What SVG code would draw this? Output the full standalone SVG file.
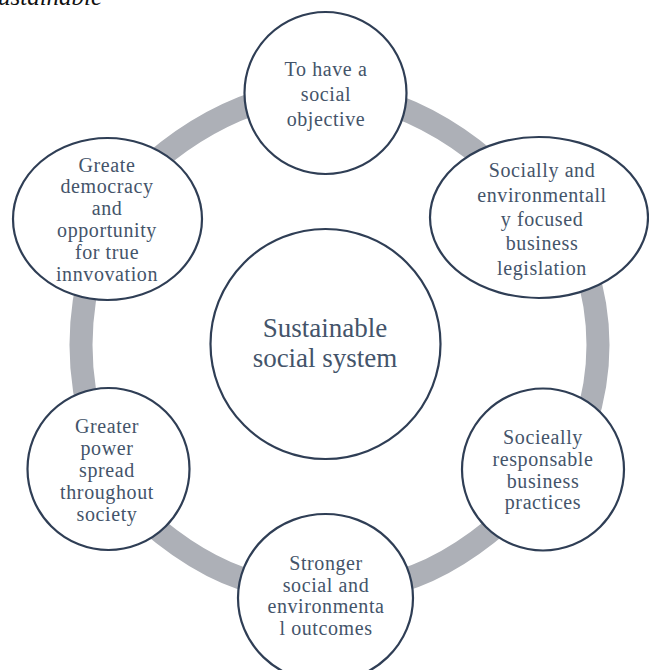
<svg xmlns="http://www.w3.org/2000/svg" width="649" height="670" viewBox="0 0 649 670">
<style>
.ring{fill:none;stroke:#ADB0B7;stroke-width:23}
.node{fill:#FFFFFF;stroke:#2F3E55;stroke-width:2.2}
.t{font-family:"Liberation Serif","Times New Roman",serif;font-size:20px;letter-spacing:0.6px;fill:#44546A;text-anchor:middle}
.c{font-family:"Liberation Serif","Times New Roman",serif;font-size:27px;fill:#44546A;text-anchor:middle}
.title{font-family:"Liberation Serif","Times New Roman",serif;font-size:25px;font-style:italic;fill:#111111}
</style>
<rect width="649" height="670" fill="#FFFFFF"/>
<text class="title" x="-2" y="5">ustainable</text>
<g id="connectors">
<path class="ring" d="M140 175 Q197.5 120.5 265 100"/>
<path class="ring" d="M378 100 Q445.5 120.5 503 175"/>
<path class="ring" d="M585 265 Q611 345 585 425"/>
<path class="ring" d="M520 505 Q451.5 571 385 585"/>
<path class="ring" d="M265 585 Q198.5 571 130 505"/>
<path class="ring" d="M95 435 Q67 345 95 255"/>
</g>
<g id="center">
<circle class="node" cx="325.5" cy="344" r="115"/>
<text class="c" x="325" y="337">Sustainable</text>
<text class="c" x="325" y="367">social system</text>
</g>
<g id="n1">
<circle class="node" cx="325.5" cy="93" r="81"/>
<text class="t" x="326" y="76">To have a</text>
<text class="t" x="326" y="101">social</text>
<text class="t" x="326" y="126">objective</text>
</g>
<g id="n2">
<ellipse class="node" cx="539" cy="217.5" rx="109" ry="80.5"/>
<text class="t" x="542" y="177">Socially and</text>
<text class="t" x="542" y="202">environmentall</text>
<text class="t" x="542" y="226">y focused</text>
<text class="t" x="542" y="250">business</text>
<text class="t" x="542" y="275">legislation</text>
</g>
<g id="n3">
<circle class="node" cx="543" cy="469.5" r="81"/>
<text class="t" x="543" y="444">Socieally</text>
<text class="t" x="543" y="466">responsable</text>
<text class="t" x="543" y="488">business</text>
<text class="t" x="543" y="509">practices</text>
</g>
<g id="n4">
<ellipse class="node" cx="325.5" cy="598" rx="87.5" ry="84"/>
<text class="t" x="326" y="570">Stronger</text>
<text class="t" x="326" y="592">social and</text>
<text class="t" x="326" y="613">environmenta</text>
<text class="t" x="326" y="635">l outcomes</text>
</g>
<g id="n5">
<circle class="node" cx="108.5" cy="469" r="81"/>
<text class="t" x="107" y="433">Greater</text>
<text class="t" x="107" y="455">power</text>
<text class="t" x="107" y="477">spread</text>
<text class="t" x="107" y="499">throughout</text>
<text class="t" x="107" y="521">society</text>
</g>
<g id="n6">
<ellipse class="node" cx="107.5" cy="219" rx="94.5" ry="81"/>
<text class="t" x="107" y="172">Greate</text>
<text class="t" x="107" y="193">democracy</text>
<text class="t" x="107" y="215">and</text>
<text class="t" x="107" y="237">opportunity</text>
<text class="t" x="107" y="259">for true</text>
<text class="t" x="107" y="281">innvovation</text>
</g>
</svg>
